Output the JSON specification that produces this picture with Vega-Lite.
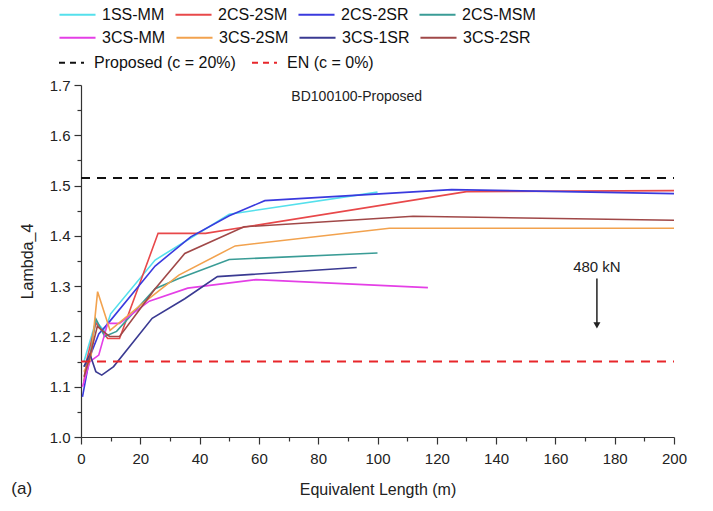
{
  "$schema": "https://vega.github.io/schema/vega-lite/v6.json",
  "width": 593,
  "height": 352,
  "autosize": {"type": "none"},
  "padding": {"left": 81, "top": 85, "right": 39, "bottom": 74},
  "background": "white",
  "config": {
    "view": {"stroke": null},
    "font": "Liberation Sans",
    "axis": {
      "grid": false,
      "labelFont": "Liberation Sans",
      "titleFont": "Liberation Sans",
      "labelFontSize": 15,
      "titleFontSize": 16,
      "titleFontWeight": "normal",
      "labelColor": "#222222",
      "titleColor": "#222222",
      "domainColor": "#333333",
      "tickColor": "#333333",
      "domainWidth": 1.2,
      "tickWidth": 1.2
    },
    "legend": {"labelFont": "Liberation Sans"}
  },
  "datasets": {
    "series": [
      {"series": "1SS-MM", "x": 1, "y": 1.15},
      {"series": "1SS-MM", "x": 5, "y": 1.23},
      {"series": "1SS-MM", "x": 8, "y": 1.21},
      {"series": "1SS-MM", "x": 10, "y": 1.245},
      {"series": "1SS-MM", "x": 25, "y": 1.352},
      {"series": "1SS-MM", "x": 50, "y": 1.443},
      {"series": "1SS-MM", "x": 100, "y": 1.487},
      {"series": "2CS-2SM", "x": 1, "y": 1.11},
      {"series": "2CS-2SM", "x": 2, "y": 1.155},
      {"series": "2CS-2SM", "x": 5, "y": 1.227},
      {"series": "2CS-2SM", "x": 9, "y": 1.196},
      {"series": "2CS-2SM", "x": 13, "y": 1.196},
      {"series": "2CS-2SM", "x": 26, "y": 1.405},
      {"series": "2CS-2SM", "x": 42, "y": 1.405},
      {"series": "2CS-2SM", "x": 130, "y": 1.488},
      {"series": "2CS-2SM", "x": 200, "y": 1.49},
      {"series": "2CS-2SR", "x": 0.5, "y": 1.08},
      {"series": "2CS-2SR", "x": 3, "y": 1.16},
      {"series": "2CS-2SR", "x": 6, "y": 1.205},
      {"series": "2CS-2SR", "x": 9, "y": 1.225},
      {"series": "2CS-2SR", "x": 25, "y": 1.34},
      {"series": "2CS-2SR", "x": 37, "y": 1.398},
      {"series": "2CS-2SR", "x": 50, "y": 1.44},
      {"series": "2CS-2SR", "x": 62, "y": 1.47},
      {"series": "2CS-2SR", "x": 125, "y": 1.492},
      {"series": "2CS-2SR", "x": 200, "y": 1.484},
      {"series": "2CS-MSM", "x": 1, "y": 1.14},
      {"series": "2CS-MSM", "x": 3, "y": 1.16},
      {"series": "2CS-MSM", "x": 5, "y": 1.235},
      {"series": "2CS-MSM", "x": 8, "y": 1.2},
      {"series": "2CS-MSM", "x": 12, "y": 1.21},
      {"series": "2CS-MSM", "x": 25, "y": 1.295},
      {"series": "2CS-MSM", "x": 33, "y": 1.315},
      {"series": "2CS-MSM", "x": 50, "y": 1.353},
      {"series": "2CS-MSM", "x": 100, "y": 1.366},
      {"series": "3CS-MM", "x": 0.5, "y": 1.1},
      {"series": "3CS-MM", "x": 3, "y": 1.15},
      {"series": "3CS-MM", "x": 6, "y": 1.163},
      {"series": "3CS-MM", "x": 9, "y": 1.226},
      {"series": "3CS-MM", "x": 13, "y": 1.226},
      {"series": "3CS-MM", "x": 23, "y": 1.27},
      {"series": "3CS-MM", "x": 36, "y": 1.296},
      {"series": "3CS-MM", "x": 59, "y": 1.313},
      {"series": "3CS-MM", "x": 117, "y": 1.297},
      {"series": "3CS-2SM", "x": 1, "y": 1.13},
      {"series": "3CS-2SM", "x": 3.3, "y": 1.155},
      {"series": "3CS-2SM", "x": 5.6, "y": 1.289},
      {"series": "3CS-2SM", "x": 9.8, "y": 1.212},
      {"series": "3CS-2SM", "x": 20, "y": 1.262},
      {"series": "3CS-2SM", "x": 33, "y": 1.322},
      {"series": "3CS-2SM", "x": 52, "y": 1.38},
      {"series": "3CS-2SM", "x": 104, "y": 1.415},
      {"series": "3CS-2SM", "x": 200, "y": 1.415},
      {"series": "3CS-1SR", "x": 1, "y": 1.14},
      {"series": "3CS-1SR", "x": 3, "y": 1.165},
      {"series": "3CS-1SR", "x": 5, "y": 1.13},
      {"series": "3CS-1SR", "x": 7, "y": 1.123},
      {"series": "3CS-1SR", "x": 11, "y": 1.14},
      {"series": "3CS-1SR", "x": 24, "y": 1.236},
      {"series": "3CS-1SR", "x": 35, "y": 1.275},
      {"series": "3CS-1SR", "x": 46, "y": 1.319},
      {"series": "3CS-1SR", "x": 93, "y": 1.337},
      {"series": "3CS-2SR", "x": 1, "y": 1.12},
      {"series": "3CS-2SR", "x": 3, "y": 1.16},
      {"series": "3CS-2SR", "x": 5.5, "y": 1.22},
      {"series": "3CS-2SR", "x": 9.6, "y": 1.2},
      {"series": "3CS-2SR", "x": 13, "y": 1.2},
      {"series": "3CS-2SR", "x": 25, "y": 1.295},
      {"series": "3CS-2SR", "x": 35, "y": 1.365},
      {"series": "3CS-2SR", "x": 55, "y": 1.418},
      {"series": "3CS-2SR", "x": 112, "y": 1.439},
      {"series": "3CS-2SR", "x": 200, "y": 1.431}
    ],
    "refs": [
      {"ref": "Proposed (c = 20%)", "x": 0, "y": 1.515},
      {"ref": "Proposed (c = 20%)", "x": 200, "y": 1.515},
      {"ref": "EN (c = 0%)", "x": 0, "y": 1.15},
      {"ref": "EN (c = 0%)", "x": 200, "y": 1.15}
    ]
  },
  "layer": [
    {
      "data": {"name": "series"},
      "transform": [{"filter": {"field": "series", "oneOf": ["1SS-MM", "2CS-2SM", "2CS-2SR", "2CS-MSM"]}}],
      "mark": {"type": "line", "strokeWidth": 1.6},
      "encoding": {
        "x": {
          "field": "x", "type": "quantitative",
          "scale": {"domain": [0, 200], "nice": false, "zero": false},
          "axis": {"orient": "bottom", "values": [0, 20, 40, 60, 80, 100, 120, 140, 160, 180, 200], "tickSize": 7, "labelPadding": 7, "title": "Equivalent Length (m)", "titlePadding": 15, "labelFlush": false}
        },
        "y": {
          "field": "y", "type": "quantitative",
          "scale": {"domain": [1.0, 1.7], "nice": false, "zero": false},
          "axis": {"orient": "left", "values": [1.0, 1.1, 1.2, 1.3, 1.4, 1.5, 1.6, 1.7], "format": ".1f", "tickSize": 7, "labelPadding": 4, "title": "Lambda_4", "titlePadding": 14, "labelFlush": false}
        },
        "color": {
          "field": "series", "type": "nominal",
          "scale": {
            "domain": ["1SS-MM", "2CS-2SM", "2CS-2SR", "2CS-MSM"],
            "range": ["#55e0ec", "#e8484a", "#3a3ade", "#3a9c96"]
          },
          "legend": {
            "orient": "none", "legendX": -23, "legendY": -90, "direction": "horizontal",
            "title": null, "symbolType": "stroke", "symbolSize": 1300, "symbolStrokeWidth": 2,
            "labelFontSize": 16, "labelColor": "#111111", "labelOffset": 5,
            "columnPadding": 6
          }
        }
      }
    },
    {
      "data": {"name": "series"},
      "transform": [{"filter": {"field": "series", "oneOf": ["3CS-MM", "3CS-2SM", "3CS-1SR", "3CS-2SR"]}}],
      "mark": {"type": "line", "strokeWidth": 1.6},
      "encoding": {
        "x": {"field": "x", "type": "quantitative", "axis": null},
        "y": {"field": "y", "type": "quantitative", "axis": null},
        "color": {
          "field": "series", "type": "nominal",
          "scale": {
            "domain": ["3CS-MM", "3CS-2SM", "3CS-1SR", "3CS-2SR"],
            "range": ["#e43fe6", "#f2a24e", "#3a3a92", "#a04848"]
          },
          "legend": {
            "orient": "none", "legendX": -23, "legendY": -67, "direction": "horizontal",
            "title": null, "symbolType": "stroke", "symbolSize": 1300, "symbolStrokeWidth": 2,
            "labelFontSize": 16, "labelColor": "#111111", "labelOffset": 5,
            "columnPadding": 6
          }
        }
      }
    },
    {
      "data": {"name": "refs"},
      "mark": {"type": "line", "strokeDash": [9, 7], "strokeWidth": 2},
      "encoding": {
        "x": {"field": "x", "type": "quantitative", "axis": {"orient": "bottom", "values": [10, 30, 50, 70, 90, 110, 130, 150, 170, 190], "labels": false, "domain": false, "tickSize": 4, "title": null}},
        "y": {"field": "y", "type": "quantitative", "axis": {"orient": "left", "values": [1.05, 1.15, 1.25, 1.35, 1.45, 1.55, 1.65], "labels": false, "domain": false, "tickSize": 4, "title": null}},
        "color": {
          "field": "ref", "type": "nominal",
          "scale": {"domain": ["Proposed (c = 20%)", "EN (c = 0%)"], "range": ["#111111", "#e8262b"]},
          "legend": {
            "orient": "none", "legendX": -23, "legendY": -36, "direction": "horizontal",
            "title": null, "symbolType": "stroke", "symbolSize": 625, "symbolStrokeWidth": 2,
            "symbolDash": [6, 5], "labelFontSize": 16, "labelColor": "#111111", "labelOffset": 9,
            "columnPadding": 12
          }
        }
      }
    },
    {
      "data": {"values": [{"x": 174, "y": 1.315, "y2": 1.225}]},
      "mark": {"type": "rule", "color": "#222222", "strokeWidth": 1.5},
      "encoding": {
        "x": {"field": "x", "type": "quantitative", "axis": null},
        "y": {"field": "y", "type": "quantitative", "axis": null},
        "y2": {"field": "y2"}
      }
    },
    {
      "data": {"values": [{"x": 174, "y": 1.222}]},
      "mark": {"type": "point", "shape": "triangle-down", "filled": true, "color": "#222222", "size": 50, "opacity": 1},
      "encoding": {
        "x": {"field": "x", "type": "quantitative", "axis": null},
        "y": {"field": "y", "type": "quantitative", "axis": null}
      }
    },
    {
      "data": {"values": [{"x": 174, "y": 1.339, "label": "480 kN"}]},
      "mark": {"type": "text", "fontSize": 15, "color": "#222222", "align": "center", "baseline": "middle"},
      "encoding": {
        "x": {"field": "x", "type": "quantitative", "axis": null},
        "y": {"field": "y", "type": "quantitative", "axis": null},
        "text": {"field": "label"}
      }
    },
    {
      "data": {"values": [{"x": 93, "y": 1.676, "label": "BD100100-Proposed"}]},
      "mark": {"type": "text", "fontSize": 14, "color": "#222222", "align": "center", "baseline": "middle"},
      "encoding": {
        "x": {"field": "x", "type": "quantitative", "axis": null},
        "y": {"field": "y", "type": "quantitative", "axis": null},
        "text": {"field": "label"}
      }
    },
    {
      "data": {"values": [{"x": -23.5, "y": 0.897, "label": "(a)"}]},
      "mark": {"type": "text", "fontSize": 17, "color": "#222222", "align": "left", "baseline": "middle"},
      "encoding": {
        "x": {"field": "x", "type": "quantitative", "axis": null},
        "y": {"field": "y", "type": "quantitative", "axis": null},
        "text": {"field": "label"}
      }
    }
  ],
  "resolve": {"scale": {"color": "independent"}, "axis": {"x": "independent", "y": "independent"}}
}
